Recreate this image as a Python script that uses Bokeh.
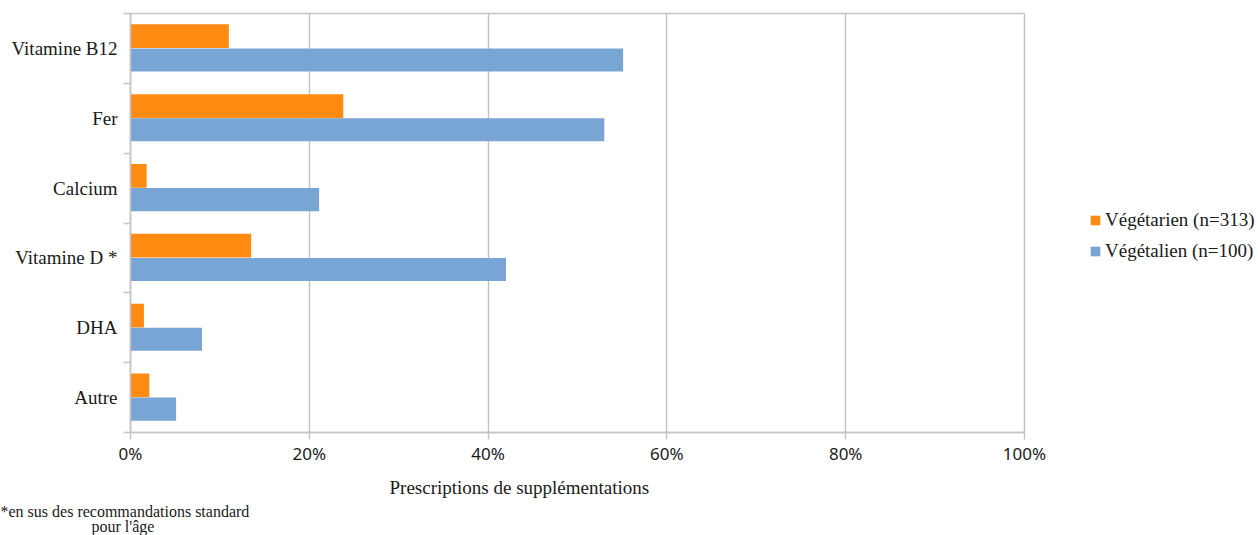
from bokeh.plotting import figure
from bokeh.models import (FactorRange, Range1d, LinearAxis, CategoricalAxis, FixedTicker,
                          NumeralTickFormatter, Legend, LegendItem, Title, ColumnDataSource)
from bokeh.transform import dodge
from bokeh.embed import file_html
from bokeh.resources import INLINE

categories = ["Vitamine B12", "Fer", "Calcium", "Vitamine D *", "DHA", "Autre"]
vegetarien = [0.11, 0.238, 0.018, 0.135, 0.015, 0.021]
vegetalien = [0.551, 0.53, 0.211, 0.42, 0.08, 0.051]
series_names = ["Végétarien (n=313)", "Végétalien (n=100)"]
x_ticks = [0, 0.2, 0.4, 0.6, 0.8, 1.0]
x_title = "Prescriptions de supplémentations"
footnote = ["*en sus des recommandations standard", "pour l'âge"]

ORANGE = "#FF8B13"
BLUE = "#78A5D3"
GRAY = "#c4c4c4"
FONT = "Liberation Serif"
TICKFONT = "Noto Sans"
TXT = "#1a1a1a"

src = ColumnDataSource(dict(cat=categories, veg=vegetarien, vgl=vegetalien))

W, H = 1258, 535
FL, FT, FW, FH = 130, 13, 894, 419

p = figure(frame_width=FW, frame_height=FH,
           y_range=FactorRange(*reversed(categories)), x_range=Range1d(0, 1),
           min_border_left=FL, min_border_top=FT,
           min_border_right=W - FL - FW, min_border_bottom=H - FT - FH,
           output_backend="svg", toolbar_location=None, y_axis_location=None)

r1 = p.hbar(y=dodge("cat", 0.175, range=p.y_range), right="veg", left=0, height=0.34,
            source=src, fill_color=ORANGE, line_color=None)
r2 = p.hbar(y=dodge("cat", -0.165, range=p.y_range), right="vgl", left=0, height=0.33,
            source=src, fill_color=BLUE, line_color=None)

# x axis
xa = p.xaxis[0]
xa.ticker = FixedTicker(ticks=x_ticks)
xa.formatter = NumeralTickFormatter(format="0%")
xa.major_tick_out = 7
xa.major_tick_in = 0
xa.minor_tick_line_color = None
xa.axis_line_color = GRAY
xa.axis_line_width = 1.5
xa.major_tick_line_color = GRAY
xa.major_tick_line_width = 1.5
xa.major_label_text_font = TICKFONT
xa.major_label_text_font_size = "17px"
xa.major_label_text_color = TXT
xa.major_label_standoff = 2

p.xgrid.ticker = FixedTicker(ticks=x_ticks)
p.xgrid.grid_line_color = GRAY
p.xgrid.grid_line_width = 1.5
p.ygrid.grid_line_color = None

p.outline_line_color = GRAY
p.outline_line_width = 1.5

# separator ticks at category boundaries (synthetic coordinates 0..n)
sep_axis = LinearAxis(ticker=FixedTicker(ticks=list(range(len(categories) + 1))),
                      major_label_text_font_size="0px", major_label_standoff=0,
                      major_tick_in=0, major_tick_out=7,
                      major_tick_line_color=GRAY, major_tick_line_width=1.5,
                      minor_tick_line_color=None,
                      axis_line_color=GRAY, axis_line_width=1.5)
p.add_layout(sep_axis, "left")

cat_axis = CategoricalAxis(axis_line_color=None, major_tick_line_color=None,
                           major_label_standoff=0,
                           major_label_text_font=FONT,
                           major_label_text_font_size="19px",
                           major_label_text_color=TXT)
p.add_layout(cat_axis, "left")

legend = Legend(items=[LegendItem(label=series_names[0], renderers=[r1]),
                       LegendItem(label=series_names[1], renderers=[r2])],
                location=(65, 170), padding=0, margin=0, spacing=9,
                glyph_width=12, glyph_height=12, label_height=20, label_standoff=4,
                label_text_font=FONT, label_text_font_size="19px", label_text_color=TXT,
                border_line_color=None, background_fill_alpha=0)
p.add_layout(legend, "right")

p.add_layout(Title(text=x_title, align="left", offset=259, standoff=15,
                   text_font=FONT, text_font_size="19px", text_font_style="normal",
                   text_color=TXT), "below")
p.add_layout(Title(text=footnote[0], align="left", offset=-130, standoff=-9,
                   text_font=FONT, text_font_size="16px", text_font_style="normal",
                   text_color=TXT), "below")
p.add_layout(Title(text=footnote[1], align="left", offset=-39, standoff=0,
                   text_font=FONT, text_font_size="16px", text_font_style="normal",
                   text_color=TXT), "below")

open("out.html", "w").write(file_html(p, INLINE))
